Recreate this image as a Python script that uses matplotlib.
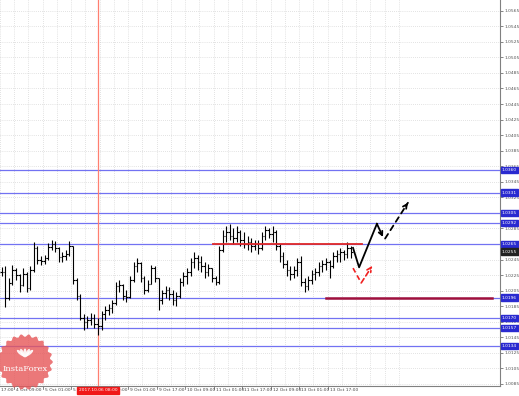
import numpy as np
import matplotlib
matplotlib.use("Agg")
import matplotlib.pyplot as plt
import matplotlib.transforms as mtransforms
from matplotlib.patches import Polygon, Ellipse

# ---------------- data (2h bars) ----------------
highs = [1.0236, 1.0237, 1.0221, 1.0238, 1.0234, 1.0226, 1.0234, 1.0229, 1.0237, 1.0268,
         1.0262, 1.0250, 1.0251, 1.0266, 1.0270, 1.0269, 1.0261, 1.0255, 1.0257, 1.0269,
         1.0262, 1.0221, 1.0201, 1.0175, 1.0172, 1.0176, 1.0175, 1.0170, 1.0179, 1.0185,
         1.0188, 1.0193, 1.0216, 1.0219, 1.0214, 1.0206, 1.0224, 1.0242, 1.0247, 1.0242,
         1.0224, 1.0219, 1.0238, 1.0237, 1.0221, 1.0206, 1.0211, 1.0210, 1.0206, 1.0203,
         1.0221, 1.0229, 1.0234, 1.0247, 1.0255, 1.0251, 1.0250, 1.0242, 1.0239, 1.0234,
         1.0224, 1.0262, 1.0283, 1.0288, 1.0291, 1.0286, 1.0288, 1.0283, 1.0280, 1.0275,
         1.0273, 1.0270, 1.0270, 1.0280, 1.0288, 1.0286, 1.0288, 1.0283, 1.0265, 1.0255,
         1.0244, 1.0237, 1.0237, 1.0247, 1.0250, 1.0221, 1.0224, 1.0232, 1.0234, 1.0242,
         1.0245, 1.0247, 1.0245, 1.0255, 1.0257, 1.0260, 1.0257, 1.0268, 1.0262]
lows = [1.0224, 1.0184, 1.0193, 1.0212, 1.0219, 1.0203, 1.0211, 1.0203, 1.0206, 1.0229,
        1.0239, 1.0238, 1.0239, 1.0244, 1.0257, 1.0255, 1.0242, 1.0242, 1.0244, 1.0250,
        1.0214, 1.0193, 1.0167, 1.0154, 1.0157, 1.0161, 1.0157, 1.0148, 1.0154, 1.0167,
        1.0174, 1.0176, 1.0187, 1.0203, 1.0193, 1.0190, 1.0196, 1.0216, 1.0229, 1.0216,
        1.0201, 1.0203, 1.0214, 1.0216, 1.0180, 1.0188, 1.0196, 1.0193, 1.0187, 1.0185,
        1.0196, 1.0211, 1.0214, 1.0224, 1.0234, 1.0232, 1.0229, 1.0221, 1.0224, 1.0216,
        1.0212, 1.0214, 1.0255, 1.0268, 1.0270, 1.0265, 1.0268, 1.0262, 1.0260, 1.0257,
        1.0255, 1.0257, 1.0252, 1.0257, 1.0270, 1.0273, 1.0268, 1.0257, 1.0242, 1.0234,
        1.0224, 1.0219, 1.0221, 1.0224, 1.0211, 1.0203, 1.0206, 1.0214, 1.0219, 1.0224,
        1.0229, 1.0232, 1.0221, 1.0234, 1.0242, 1.0242, 1.0245, 1.0247, 1.0247]
closes = [1.0229, 1.0196, 1.0215, 1.0232, 1.0225, 1.0212, 1.0226, 1.0208, 1.0232, 1.0260,
          1.0244, 1.0243, 1.0247, 1.0261, 1.0265, 1.0260, 1.0248, 1.0250, 1.0252, 1.0262,
          1.0219, 1.0198, 1.0170, 1.0165, 1.0167, 1.0170, 1.0162, 1.0160, 1.0175, 1.0180,
          1.0183, 1.0189, 1.0211, 1.0212, 1.0198, 1.0197, 1.0219, 1.0237, 1.0241, 1.0221,
          1.0206, 1.0214, 1.0234, 1.0221, 1.0193, 1.0202, 1.0206, 1.0201, 1.0193, 1.0198,
          1.0216, 1.0224, 1.0229, 1.0242, 1.0247, 1.0242, 1.0237, 1.0229, 1.0234, 1.0221,
          1.0216, 1.0257, 1.0275, 1.0280, 1.0275, 1.0273, 1.0280, 1.0270, 1.0265, 1.0268,
          1.0262, 1.0265, 1.0260, 1.0275, 1.0283, 1.0278, 1.0280, 1.0262, 1.0250, 1.0239,
          1.0232, 1.0226, 1.0232, 1.0242, 1.0216, 1.0211, 1.0219, 1.0226, 1.0229, 1.0237,
          1.0239, 1.0242, 1.0237, 1.0250, 1.0252, 1.0255, 1.0252, 1.0260, 1.0255]
opens = [closes[0]] + closes[:-1]

# support / resistance levels
blue_levels = [1.0360, 1.0331, 1.0305, 1.0292, 1.0265, 1.0196, 1.0170, 1.0157, 1.0134]
current_price = 1.0255
red_seg = (59.3, 101.1, 1.0265)
maroon_seg = (91.0, 137.6, 1.0196)
vline_bar = 27

# forecast arrows (bar index, price)
black_solid_x = [98.6, 100.3, 105.3, 107.0]
black_solid_y = [1.0260, 1.0235, 1.0291, 1.0274]
black_dash_x = [107.6, 114.0]
black_dash_y = [1.0272, 1.0318]
red_dash_x = [98.6, 100.9, 104.0]
red_dash_y = [1.0234, 1.0215, 1.0237]

# axis labels
tick_start = -4.5
tick_labels = ["3 Oct 17:00", "4 Oct 09:00", "5 Oct 01:00", "5 Oct 17:00", "6 Oct 09:00",
               "9 Oct 01:00", "9 Oct 17:00", "10 Oct 09:00", "11 Oct 01:00", "11 Oct 17:00",
               "12 Oct 09:00", "13 Oct 01:00", "13 Oct 17:00"]
vline_label = "2017.10.06 08:00"
price_ticks = [1.0085 + 0.002 * k for k in range(25)]

FS = 3.2

# ---------------- figure ----------------
W, H = 519, 396
fig = plt.figure(figsize=(W / 100, H / 100), dpi=100)
fig.patch.set_facecolor("white")
ax = fig.add_axes([0, 10 / H, 500 / W, 386 / H])
ax.set_xlim(-0.5, -0.5 + 500 / 3.5625)
ax.set_ylim(1.0565 - 375.3 / 7777, 1.0565 + 10.7 / 7777)

for s in ["left", "top"]:
    ax.spines[s].set_visible(False)
for s in ["right", "bottom"]:
    ax.spines[s].set_color("#808080")
    ax.spines[s].set_linewidth(0.8)

# grid
for p in price_ticks:
    ax.axhline(p, color="#c8c8c8", lw=0.5, ls=(0, (1, 2)), zorder=0)
for k in range(0, 30):
    ax.axvline(tick_start + 4 * k, color="#c8c8c8", lw=0.5, ls=(0, (1, 2)), zorder=0)

# price axis
ax.yaxis.tick_right()
ax.set_yticks(price_ticks)
ax.set_yticklabels([f"{p:.4f}" for p in price_ticks], fontsize=FS, color="#444444")
ax.tick_params(axis="y", length=2, width=0.5, pad=1.0, colors="#555555")
ax.set_xticks([])

# time labels
xt = mtransforms.blended_transform_factory(ax.transData, ax.transAxes)
for k, lab in enumerate(tick_labels):
    xv = tick_start + 8 * k
    ax.plot([xv, xv], [0, -0.008], transform=xt, color="#555555", lw=0.5, clip_on=False)
    ax.text(xv + 0.5, -0.006, lab, transform=xt, fontsize=FS, color="#444444",
            ha="left", va="top", clip_on=False)

# levels
for lv in blue_levels:
    ax.axhline(lv, color="#7272f2", lw=0.9, zorder=1)
ax.plot(red_seg[:2], [red_seg[2]] * 2, color="#e02828", lw=1.3, zorder=3)
ax.plot(maroon_seg[:2], [maroon_seg[2]] * 2, color="#a0103c", lw=1.8, zorder=3)
ax.axvline(vline_bar, color="#ff7f70", lw=0.9, zorder=1)

# OHLC bars
x = np.arange(len(closes))
ax.vlines(x, lows, highs, color="black", lw=0.8, zorder=2)
ax.hlines(opens, x - 0.45, x, color="black", lw=0.8, zorder=2)
ax.hlines(closes, x, x + 0.45, color="black", lw=0.8, zorder=2)

# forecast arrows
ax.plot(black_solid_x[:-1], black_solid_y[:-1], color="black", lw=1.3, zorder=4)
ax.annotate("", xy=(black_solid_x[-1], black_solid_y[-1]),
            xytext=(black_solid_x[-2], black_solid_y[-2]),
            arrowprops=dict(arrowstyle="->", color="black", lw=1.3, mutation_scale=7,
                            shrinkA=0, shrinkB=0), zorder=4)
ax.annotate("", xy=(black_dash_x[1], black_dash_y[1]), xytext=(black_dash_x[0], black_dash_y[0]),
            arrowprops=dict(arrowstyle="-", color="black", lw=1.3, ls=(0, (3, 2.5)),
                            shrinkA=0, shrinkB=0), zorder=4)
ax.annotate("", xy=(black_dash_x[1], black_dash_y[1]),
            xytext=(black_dash_x[1] - 0.6, black_dash_y[1] - 0.0004),
            arrowprops=dict(arrowstyle="->", color="black", lw=1.3, mutation_scale=7,
                            shrinkA=0, shrinkB=0), zorder=4)
ax.plot(red_dash_x[:-1], red_dash_y[:-1], color="#f02020", lw=1.2, ls=(0, (3, 2)), zorder=4)
ax.annotate("", xy=(red_dash_x[-1], red_dash_y[-1]), xytext=(red_dash_x[-2], red_dash_y[-2]),
            arrowprops=dict(arrowstyle="->", color="#f02020", lw=1.2, ls=(0, (3, 2)),
                            mutation_scale=8, shrinkA=0, shrinkB=0), zorder=4)

# highlighted price labels
yt = mtransforms.blended_transform_factory(ax.transAxes, ax.transData)
for lv in blue_levels:
    ax.text(1.004, lv, f"{lv:.4f}", transform=yt, fontsize=FS, color="white",
            ha="left", va="center", clip_on=False, zorder=6,
            bbox=dict(boxstyle="square,pad=0.3", fc="#2a2ad0", ec="#2a2ad0"))
ax.text(1.004, current_price, f"{current_price:.4f}", transform=yt, fontsize=FS,
        color="white", ha="left", va="center", clip_on=False, zorder=7,
        bbox=dict(boxstyle="square,pad=0.3", fc="#222222", ec="#222222"))

# vertical line time label
ax.text(vline_bar, -0.006, vline_label, transform=xt, fontsize=FS, color="white",
        ha="center", va="top", clip_on=False, zorder=7,
        bbox=dict(boxstyle="square,pad=0.4", fc="#f01818", ec="#f01818"))

# logo
lax = fig.add_axes([(25 - 30) / W, (396 - 362 - 30) / H, 60 / W, 60 / H])
lax.set_xlim(-30, 30)
lax.set_ylim(-30, 30)
lax.axis("off")
th = np.linspace(0, 2 * np.pi, 400)
rr = 26.5 + 1.3 * np.cos(22 * th)
lax.add_patch(Polygon(np.column_stack([rr * np.cos(th), rr * np.sin(th)]),
                      closed=True, fc="#e65658", ec="none", alpha=0.8))
for ang in [-50, -25, 0, 25, 50]:
    lax.add_patch(Ellipse((0 + 6 * np.sin(np.radians(ang)), 9), 3.2, 9, angle=-ang,
                          fc="white", ec="none", alpha=0.9))
lax.text(0, -7, "InstaForex", fontsize=6, color="white", ha="center", va="center",
         family="DejaVu Serif")

fig.savefig("out.png", dpi=100)
